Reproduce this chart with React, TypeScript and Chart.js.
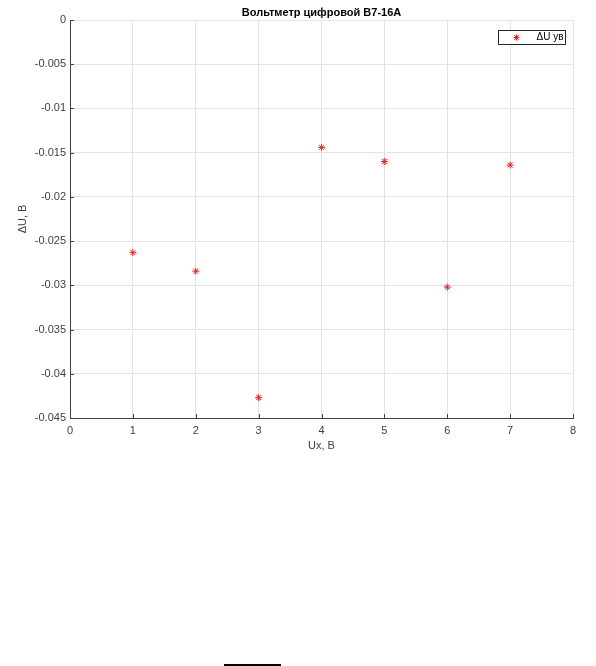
import React, { useEffect, useRef } from 'react';
import { Chart, registerables } from 'chart.js';

Chart.register(...registerables);

const TITLE = 'Вольтметр цифровой В7-16А';
const X_LABEL = 'Ux, В';
const Y_LABEL = 'ΔU, В';
const SERIES_LABEL = 'ΔU ув';

const uxValues = [1, 2, 3, 4, 5, 6, 7];
const deltaU = [-0.0263, -0.0284, -0.0427, -0.0144, -0.016, -0.0302, -0.0164];

const X_MIN = 0;
const X_MAX = 8;
const X_STEP = 1;
const Y_MIN = -0.045;
const Y_MAX = 0;
const Y_STEP = 0.005;

const FONT = "'Liberation Sans', Arial, sans-serif";
const RED = '#ee2020';

const titlePlugin = {
  id: 'matlabTitle',
  afterDraw(chart: any) {
    const { ctx, chartArea } = chart;
    ctx.save();
    ctx.font = `bold 11px ${FONT}`;
    ctx.fillStyle = '#000';
    ctx.textAlign = 'center';
    ctx.textBaseline = 'middle';
    ctx.fillText(TITLE, (chartArea.left + chartArea.right) / 2, 13);
    ctx.restore();
  },
};

const insideTicksPlugin = {
  id: 'insideTicks',
  afterDraw(chart: any) {
    const { ctx, chartArea, scales } = chart;
    ctx.save();
    ctx.strokeStyle = '#404040';
    ctx.lineWidth = 1;
    ctx.beginPath();
    scales.x.ticks.forEach((t: any) => {
      const px = Math.round(scales.x.getPixelForValue(t.value)) + 0.5;
      ctx.moveTo(px, chartArea.bottom);
      ctx.lineTo(px, chartArea.bottom - 4);
    });
    scales.y.ticks.forEach((t: any) => {
      const py = Math.round(scales.y.getPixelForValue(t.value)) + 0.5;
      ctx.moveTo(chartArea.left, py);
      ctx.lineTo(chartArea.left + 4, py);
    });
    ctx.stroke();
    ctx.restore();
  },
};

const legendPlugin = {
  id: 'boxLegend',
  afterDraw(chart: any) {
    const { ctx, chartArea } = chart;
    const w = 67;
    const h = 14;
    const x = chartArea.right - 8 - w + 0.5;
    const y = chartArea.top + 10 + 0.5;
    ctx.save();
    ctx.fillStyle = '#fff';
    ctx.fillRect(x, y, w, h);
    ctx.strokeStyle = '#262626';
    ctx.lineWidth = 1;
    ctx.strokeRect(x, y, w, h);
    // star marker
    const cx = x + 18;
    const cy = y + h / 2;
    const r = 3;
    ctx.strokeStyle = RED;
    ctx.beginPath();
    ctx.moveTo(cx - r, cy);
    ctx.lineTo(cx + r, cy);
    ctx.moveTo(cx, cy - r);
    ctx.lineTo(cx, cy + r);
    const d = r * 0.7071;
    ctx.moveTo(cx - d, cy - d);
    ctx.lineTo(cx + d, cy + d);
    ctx.moveTo(cx - d, cy + d);
    ctx.lineTo(cx + d, cy - d);
    ctx.stroke();
    ctx.font = `10px ${FONT}`;
    ctx.fillStyle = '#000';
    ctx.textAlign = 'left';
    ctx.textBaseline = 'middle';
    ctx.fillText(SERIES_LABEL, x + 38, cy);
    ctx.restore();
  },
};

export default function App() {
  const canvasRef = useRef<HTMLCanvasElement | null>(null);

  useEffect(() => {
    const canvas = canvasRef.current;
    if (!canvas) return;
    const chart = new Chart(canvas, {
      type: 'scatter',
      data: {
        datasets: [
          {
            label: SERIES_LABEL,
            data: uxValues.map((x, i) => ({ x, y: deltaU[i] })),
            pointStyle: 'star',
            pointRadius: 3.5,
            pointBorderColor: RED,
            pointBackgroundColor: RED,
            pointBorderWidth: 1,
            showLine: false,
          },
        ],
      },
      options: {
        responsive: false,
        animation: false,
        devicePixelRatio: 1,
        layout: { padding: { top: 20, right: 23, left: 0, bottom: 0 } },
        plugins: {
          legend: { display: false },
          title: { display: false },
          tooltip: { enabled: false },
        },
        scales: {
          x: {
            type: 'linear',
            min: X_MIN,
            max: X_MAX,
            ticks: {
              stepSize: X_STEP,
              padding: 6,
              color: '#404040',
              font: { family: FONT, size: 11 },
              maxRotation: 0,
            },
            grid: { color: '#e3e3e3', lineWidth: 1, drawTicks: false },
            border: { display: true, color: '#404040', width: 1 },
            title: {
              display: true,
              text: X_LABEL,
              color: '#404040',
              font: { family: FONT, size: 11 },
              padding: { top: 0, bottom: 7 },
            },
            afterFit(scale: any) {
              scale.height = 42;
            },
          },
          y: {
            type: 'linear',
            min: Y_MIN,
            max: Y_MAX,
            ticks: {
              stepSize: Y_STEP,
              padding: 4,
              color: '#404040',
              font: { family: FONT, size: 11 },
              callback: (v: any) => {
                const n = +Number(v).toFixed(4);
                return n === 0 ? '0' : String(n);
              },
            },
            grid: { color: '#e3e3e3', lineWidth: 1, drawTicks: false },
            border: { display: true, color: '#404040', width: 1 },
            title: {
              display: true,
              text: Y_LABEL,
              color: '#404040',
              font: { family: FONT, size: 11 },
              padding: { top: 16, bottom: 0 },
            },
            afterFit(scale: any) {
              scale.width = 70;
            },
          },
        },
      },
      plugins: [titlePlugin, insideTicksPlugin, legendPlugin],
    } as any);
    return () => chart.destroy();
  }, []);

  return (
    <div style={{ position: 'absolute', left: 0, top: 0, width: 596, height: 666, background: '#fff' }}>
      <canvas ref={canvasRef} width={596} height={460} style={{ display: 'block', width: 596, height: 460 }} />
      <div style={{ position: 'absolute', left: 224, top: 664, width: 57, height: 2, background: '#000' }} />
    </div>
  );
}
